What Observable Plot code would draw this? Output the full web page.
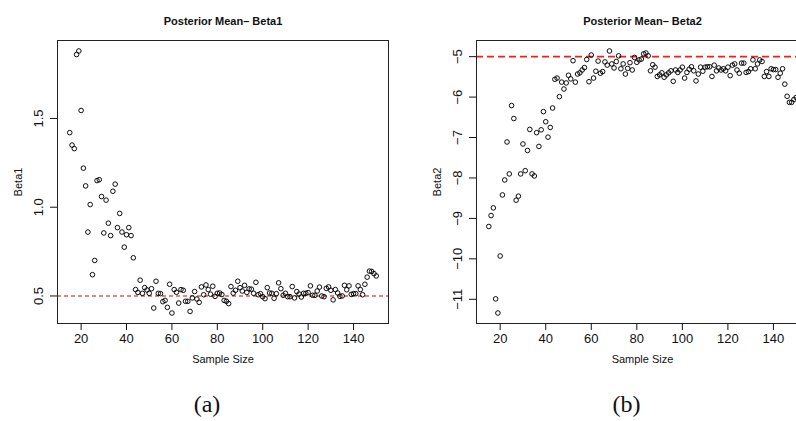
<!DOCTYPE html>
<html>
<head>
<meta charset="utf-8">
<script src="https://cdn.jsdelivr.net/npm/d3@7"></script>
<script src="https://cdn.jsdelivr.net/npm/@observablehq/plot@0.6"></script>
<style>
  html, body { margin: 0; padding: 0; background: #fff; }
  #wrap { position: relative; width: 796px; height: 421px; overflow: hidden; background: #fff; }
  #wrap svg { position: absolute; top: 0; background: transparent; }
</style>
</head>
<body>
<div id="wrap"></div>
<script>
// ---- data ----
const sampleSize = [15,16,17,18,19,20,21,22,23,24,25,26,27,28,29,30,31,32,33,34,35,36,37,38,39,40,
  41,42,43,44,45,46,47,48,49,50,51,52,53,54,55,56,57,58,59,60,61,62,63,64,65,66,67,68,69,70,
  71,72,73,74,75,76,77,78,79,80,81,82,83,84,85,86,87,88,89,90,91,92,93,94,95,96,97,98,99,100,
  101,102,103,104,105,106,107,108,109,110,111,112,113,114,115,116,117,118,119,120,
  121,122,123,124,125,126,127,128,129,130,131,132,133,134,135,136,137,138,139,140,
  141,142,143,144,145,146,147,148,149,150];

const beta1Mean = [1.42,1.35,1.33,1.86,1.88,1.545,1.22,1.12,0.86,1.015,0.62,0.70,1.15,1.155,1.06,0.855,
  1.04,0.91,0.84,1.09,1.13,0.885,0.965,0.86,0.775,0.845,0.885,0.84,0.715,
  0.536,0.52,0.589,0.515,0.547,0.534,0.515,0.541,0.432,0.583,0.515,0.513,0.468,0.475,0.436,0.566,
  0.404,0.536,0.521,0.46,0.536,0.532,0.47,0.47,0.413,0.489,0.525,0.483,0.464,0.551,0.507,
  0.562,0.536,0.51,0.555,0.498,0.515,0.517,0.508,0.475,0.47,0.457,0.553,0.516,0.532,0.583,
  0.547,0.528,0.56,0.52,0.54,0.538,0.515,0.577,0.507,0.513,0.496,0.485,0.547,0.517,0.515,
  0.487,0.513,0.574,0.541,0.504,0.515,0.496,0.496,0.553,0.489,0.525,0.511,0.494,0.515,0.515,
  0.519,0.557,0.504,0.504,0.528,0.55,0.5,0.496,0.543,0.551,0.532,0.478,0.536,0.517,0.498,
  0.5,0.56,0.535,0.557,0.509,0.513,0.513,0.557,0.536,0.507,0.566,0.606,0.64,0.638,0.626,0.613];

const beta2Mean = [-9.20,-8.93,-8.74,-10.99,-11.34,-9.93,-8.42,-8.05,-7.11,-7.90,-6.21,-6.53,-8.55,-8.45,
  -7.90,-7.16,-7.82,-7.32,-6.80,-7.90,-7.95,-6.88,-7.22,-6.81,-6.36,-6.61,-6.99,-6.75,-6.27,
  -5.56,-5.53,-5.99,-5.63,-5.80,-5.65,-5.46,-5.55,-5.10,-5.63,-5.43,-5.40,-5.33,-5.27,-5.07,
  -5.62,-4.96,-5.53,-5.36,-5.11,-5.41,-5.37,-5.13,-5.21,-4.86,-5.18,-5.28,-5.12,-4.98,-5.30,
  -5.18,-5.43,-5.29,-5.15,-5.33,-5.02,-5.14,-5.08,-5.06,-4.93,-4.91,-4.98,-5.35,-5.20,-5.26,
  -5.49,-5.45,-5.40,-5.51,-5.45,-5.40,-5.35,-5.61,-5.33,-5.39,-5.33,-5.26,-5.53,-5.39,-5.31,
  -5.25,-5.35,-5.60,-5.43,-5.26,-5.36,-5.26,-5.25,-5.25,-5.49,-5.21,-5.35,-5.28,-5.33,-5.30,
  -5.35,-5.26,-5.47,-5.21,-5.18,-5.33,-5.41,-5.16,-5.16,-5.39,-5.37,-5.30,-5.08,-5.30,-5.18,
  -5.08,-5.12,-5.49,-5.37,-5.49,-5.30,-5.32,-5.32,-5.51,-5.41,-5.30,-5.68,-5.98,-6.13,-6.13,
  -6.06,-6.01];

const xTicks = [20, 40, 60, 80, 100, 120, 140];
const yTicksA = [0.5, 1.0, 1.5];
const yTickLabelsA = ["0.5", "1.0", "1.5"];
const yTicksB = [-5, -6, -7, -8, -9, -10, -11];
const yTickLabelsB = ["\u22125", "\u22126", "\u22127", "\u22128", "\u22129", "\u221210", "\u221211"];
const trueValueA = 0.5;
const trueValueB = -5;

const panels = [
  { title: "Posterior Mean\u2013 Beta1", ylab: "Beta1", caption: "(a)", values: beta1Mean,
    ticks: yTicksA, labels: yTickLabelsA, truth: trueValueA, left: 0, ruleWidth: 1.1, dash: "4,3", ruleColor: "#cc0a0a" },
  { title: "Posterior Mean\u2013 Beta2", ylab: "Beta2", caption: "(b)", values: beta2Mean,
    ticks: yTicksB, labels: yTickLabelsB, truth: trueValueB, left: 400, ruleWidth: 1.8, dash: "7,4", ruleColor: "#ff1a1a" }
];

const sans = "'Liberation Sans', Arial, Helvetica, sans-serif";
const wrap = document.getElementById("wrap");

for (const p of panels) {
  const data = sampleSize.map((n, i) => ({ n, v: p.values[i] }));
  const ext = d3.extent(p.values);
  const pad = (ext[1] - ext[0]) * 0.04;
  const xExt = d3.extent(sampleSize);
  const xPad = (xExt[1] - xExt[0]) * 0.04;
  const width = p.left === 0 ? 400 : 420;
  const mLeft = p.left === 0 ? 57 : 76;
  const chart = Plot.plot({
    width, height: 421,
    marginLeft: mLeft, marginRight: 12, marginTop: 40, marginBottom: 98,
    x: { domain: [xExt[0] - xPad, xExt[1] + xPad] },
    y: { domain: [ext[0] - pad, ext[1] + pad] },
    style: { fontFamily: sans, fontSize: "13px", color: "#111", background: "transparent" },
    marks: [
      Plot.ruleY([p.truth], { stroke: p.ruleColor, strokeWidth: p.ruleWidth, strokeDasharray: p.dash }),
      Plot.dot(data, { x: "n", y: "v", r: 2.3, stroke: "#000", strokeWidth: 0.95, fill: "none" }),
      Plot.frame({ stroke: "#222", strokeWidth: 1 }),
      Plot.axisX(xTicks, { tickSize: 7, tickPadding: 3, label: null, fontSize: 13, tickFormat: d => String(d) }),
      Plot.axisY(p.ticks, { tickSize: 7, label: null, tickFormat: () => "" }),
      Plot.text(p.ticks, { y: d => d, text: (d, i) => p.labels[i], frameAnchor: "left", dx: -19,
        rotate: -90, textAnchor: "middle", lineAnchor: "middle", fontSize: 13 }),
      Plot.text([p.ylab], { frameAnchor: "left", dx: -39, rotate: -90, textAnchor: "middle", fontSize: 11 }),
      Plot.text(["Sample Size"], { frameAnchor: "bottom", dy: 39, fontSize: 11 }),
      Plot.text([p.title], { frameAnchor: "top", dy: -23, fontSize: 11, fontWeight: "bold" }),
      Plot.text([p.caption], { frameAnchor: "bottom", dx: -16, dy: 88, fontSize: 24,
        fontFamily: "'Liberation Serif', 'Times New Roman', serif" })
    ]
  });
  chart.style.left = p.left + "px";
  wrap.appendChild(chart);
}
</script>
</body>
</html>
